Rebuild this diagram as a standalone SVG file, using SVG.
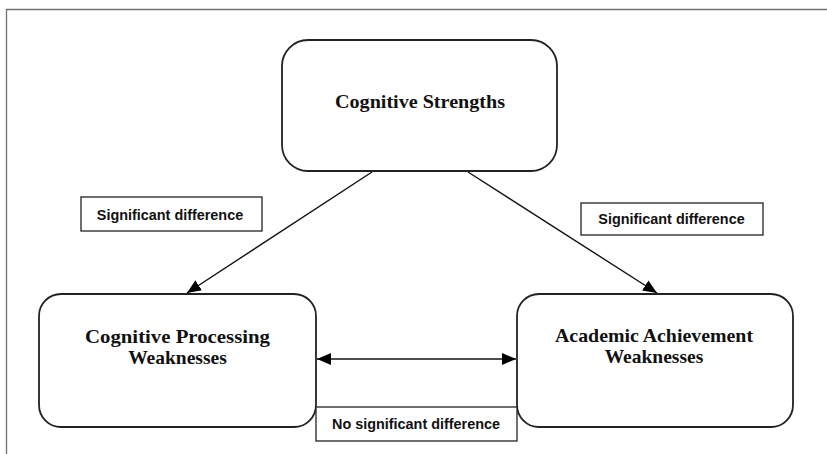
<svg xmlns="http://www.w3.org/2000/svg" width="827" height="454" viewBox="0 0 827 454">
  <style>
    .frame { fill: none; stroke: #707070; stroke-width: 1.3; }
    .node { fill: #ffffff; stroke: #222222; stroke-width: 1.8; }
    .label { fill: #ffffff; stroke: #222222; stroke-width: 1.3; }
    .ntext { font-family: "Liberation Serif", "Times New Roman", serif; font-weight: bold; font-size: 19.5px; fill: #111111; text-anchor: middle; }
    .ltext { font-family: "Liberation Sans", Arial, sans-serif; font-weight: bold; font-size: 14.4px; fill: #111111; text-anchor: middle; }
    .conn { fill: none; stroke: #111111; stroke-width: 1.4; }
  </style>
  <defs>
    <marker id="arrow" viewBox="0 0 14 12" markerWidth="14" markerHeight="12" refX="14" refY="6" orient="auto-start-reverse" markerUnits="userSpaceOnUse">
      <path d="M0,0 L14,6 L0,12 z" fill="#000000"/>
    </marker>
  </defs>
  <rect width="827" height="454" fill="#ffffff"/>
  <path class="frame" d="M6.5,454 L6.5,9.5 L827,9.5"/>

  <g id="connectors">
    <line class="conn" x1="372" y1="172" x2="187" y2="293" marker-end="url(#arrow)"/>
    <line class="conn" x1="468" y1="172" x2="657" y2="293" marker-end="url(#arrow)"/>
    <line class="conn" x1="317" y1="359" x2="516" y2="359" marker-start="url(#arrow)" marker-end="url(#arrow)"/>
  </g>

  <g id="cognitive-strengths">
    <rect class="node" x="282" y="40" width="275" height="131" rx="26" ry="26"/>
    <text class="ntext" x="420" y="108" textLength="170" lengthAdjust="spacingAndGlyphs">Cognitive Strengths</text>
  </g>

  <g id="cognitive-processing-weaknesses">
    <rect class="node" x="39" y="294" width="277" height="133" rx="22" ry="22"/>
    <text class="ntext" x="177.5" y="343" textLength="185" lengthAdjust="spacingAndGlyphs">Cognitive Processing</text>
    <text class="ntext" x="177.5" y="364">Weaknesses</text>
  </g>

  <g id="academic-achievement-weaknesses">
    <rect class="node" x="517" y="294" width="276" height="133" rx="22" ry="22"/>
    <text class="ntext" x="654" y="342" textLength="198" lengthAdjust="spacingAndGlyphs">Academic Achievement</text>
    <text class="ntext" x="654" y="363">Weaknesses</text>
  </g>

  <g id="label-left">
    <rect class="label" x="81" y="197" width="181" height="34"/>
    <text class="ltext" x="170" y="220">Significant difference</text>
  </g>

  <g id="label-right">
    <rect class="label" x="581" y="203" width="182" height="32"/>
    <text class="ltext" x="671.5" y="224">Significant difference</text>
  </g>

  <g id="label-bottom">
    <rect class="label" x="316" y="407" width="201" height="34"/>
    <text class="ltext" x="416" y="429">No significant difference</text>
  </g>
</svg>
